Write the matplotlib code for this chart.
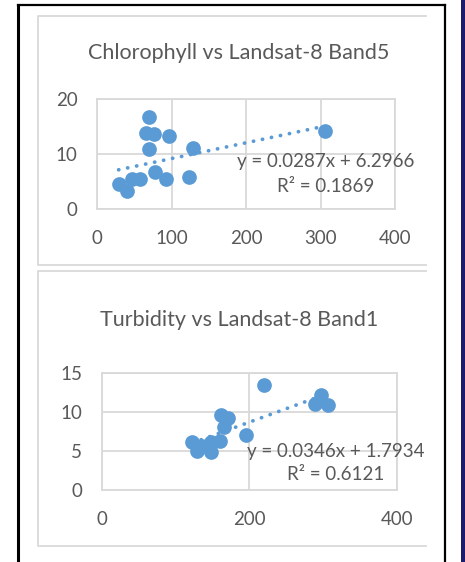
import matplotlib
matplotlib.use("Agg")
import matplotlib.pyplot as plt
from matplotlib.patches import Rectangle
from matplotlib.lines import Line2D

plt.rcParams['font.family'] = ['Lato', 'DejaVu Sans']

# chlorophyll vs band5
chl_x = [70, 66, 77, 96, 70, 129, 306, 78, 93, 123, 47, 58, 29, 40]
chl_y = [16.7, 13.8, 13.6, 13.3, 10.9, 11.1, 14.1, 6.8, 5.45, 5.75, 5.4, 5.45, 4.5, 3.3]
chl_fit = [0.0287, 6.2966]
chl_r2 = "0.1869"

# turbidity vs band1
tur_x = [220, 297, 289, 307, 162, 171, 166, 195, 160, 148, 123, 129, 148, 136]
tur_y = [13.5, 12.2, 11.0, 10.9, 9.7, 9.2, 8.1, 7.07, 6.3, 6.2, 6.2, 5.0, 4.9, 5.6]
tur_fit = [0.0346, 1.7934]
tur_r2 = "0.6121"

W, H = 465, 562
BLUE = '#5b9bd5'
GRID = '#d9d9d9'
TXT = '#595959'

fig = plt.figure(figsize=(W / 100, H / 100), dpi=100)


def fx(px):
    return px / W


def fy(py):
    return 1 - py / H


# outer frame + side strip
fig.add_artist(Line2D([fx(18), fx(18)], [0, fy(5)], color='black', lw=2.2))
fig.add_artist(Line2D([fx(18), fx(445)], [fy(5), fy(5)], color='black', lw=1.6))
fig.add_artist(Line2D([fx(445), fx(445)], [0, fy(5)], color='black', lw=1.6))
fig.add_artist(Rectangle((fx(461), 0), fx(465) - fx(461), 1, transform=fig.transFigure,
                         color='#1c1a6b', lw=0))

# chart panels (right side cut off)
for top, bot in [(16, 265), (271, 546)]:
    fig.add_artist(Line2D([fx(426), fx(38), fx(38), fx(426)],
                          [fy(top), fy(top), fy(bot), fy(bot)], color=GRID, lw=1.3))


def panel(rect, xs, ys, fit, r2, xmax, xstep, ymax, ystep, title, title_y, eq_xy):
    x0, y0, x1, y1 = rect
    ax = fig.add_axes([fx(x0), fy(y1), fx(x1) - fx(x0), fy(y0) - fy(y1)])
    ax.scatter(xs, ys, s=112, color=BLUE, zorder=3, linewidths=0)
    lo, hi = min(xs), max(xs)
    ax.plot([lo, hi], [fit[0] * lo + fit[1], fit[0] * hi + fit[1]], color=BLUE, lw=2.7,
            linestyle=(0, (0.05, 2.4)), dash_capstyle='round', zorder=2)
    ax.set_xlim(0, xmax)
    ax.set_ylim(0, ymax)
    ax.set_xticks(range(0, xmax + 1, xstep))
    ax.set_yticks(range(0, ymax + 1, ystep))
    ax.grid(True, color=GRID, lw=1.3, zorder=0)
    for s in ax.spines.values():
        s.set_color(GRID)
        s.set_linewidth(1.3)
    ax.tick_params(length=0, labelsize=13.5, labelcolor=TXT)
    ax.tick_params(axis='x', pad=15)
    ax.tick_params(axis='y', pad=14)
    ax.set_axisbelow(True)
    fig.text(fx(239), fy(title_y), title, ha='center', va='center', fontsize=15.5, color=TXT)
    fig.text(fx(eq_xy[0]), fy(eq_xy[1]),
             "y = %.4fx + %.4f\nR² = %s" % (fit[0], fit[1], r2),
             ha='center', va='center', fontsize=13.5, color=TXT, linespacing=1.5,
             multialignment='center')
    return ax


panel((97, 99, 395, 209), chl_x, chl_y, chl_fit, chl_r2, 400, 100, 20, 10,
      "Chlorophyll vs Landsat-8 Band5", 53, (326, 174))
panel((101.7, 373.3, 396.7, 490), tur_x, tur_y, tur_fit, tur_r2, 400, 200, 15, 5,
      "Turbidity vs Landsat-8 Band1", 320, (336, 463))

fig.savefig('out.png', dpi=100)
